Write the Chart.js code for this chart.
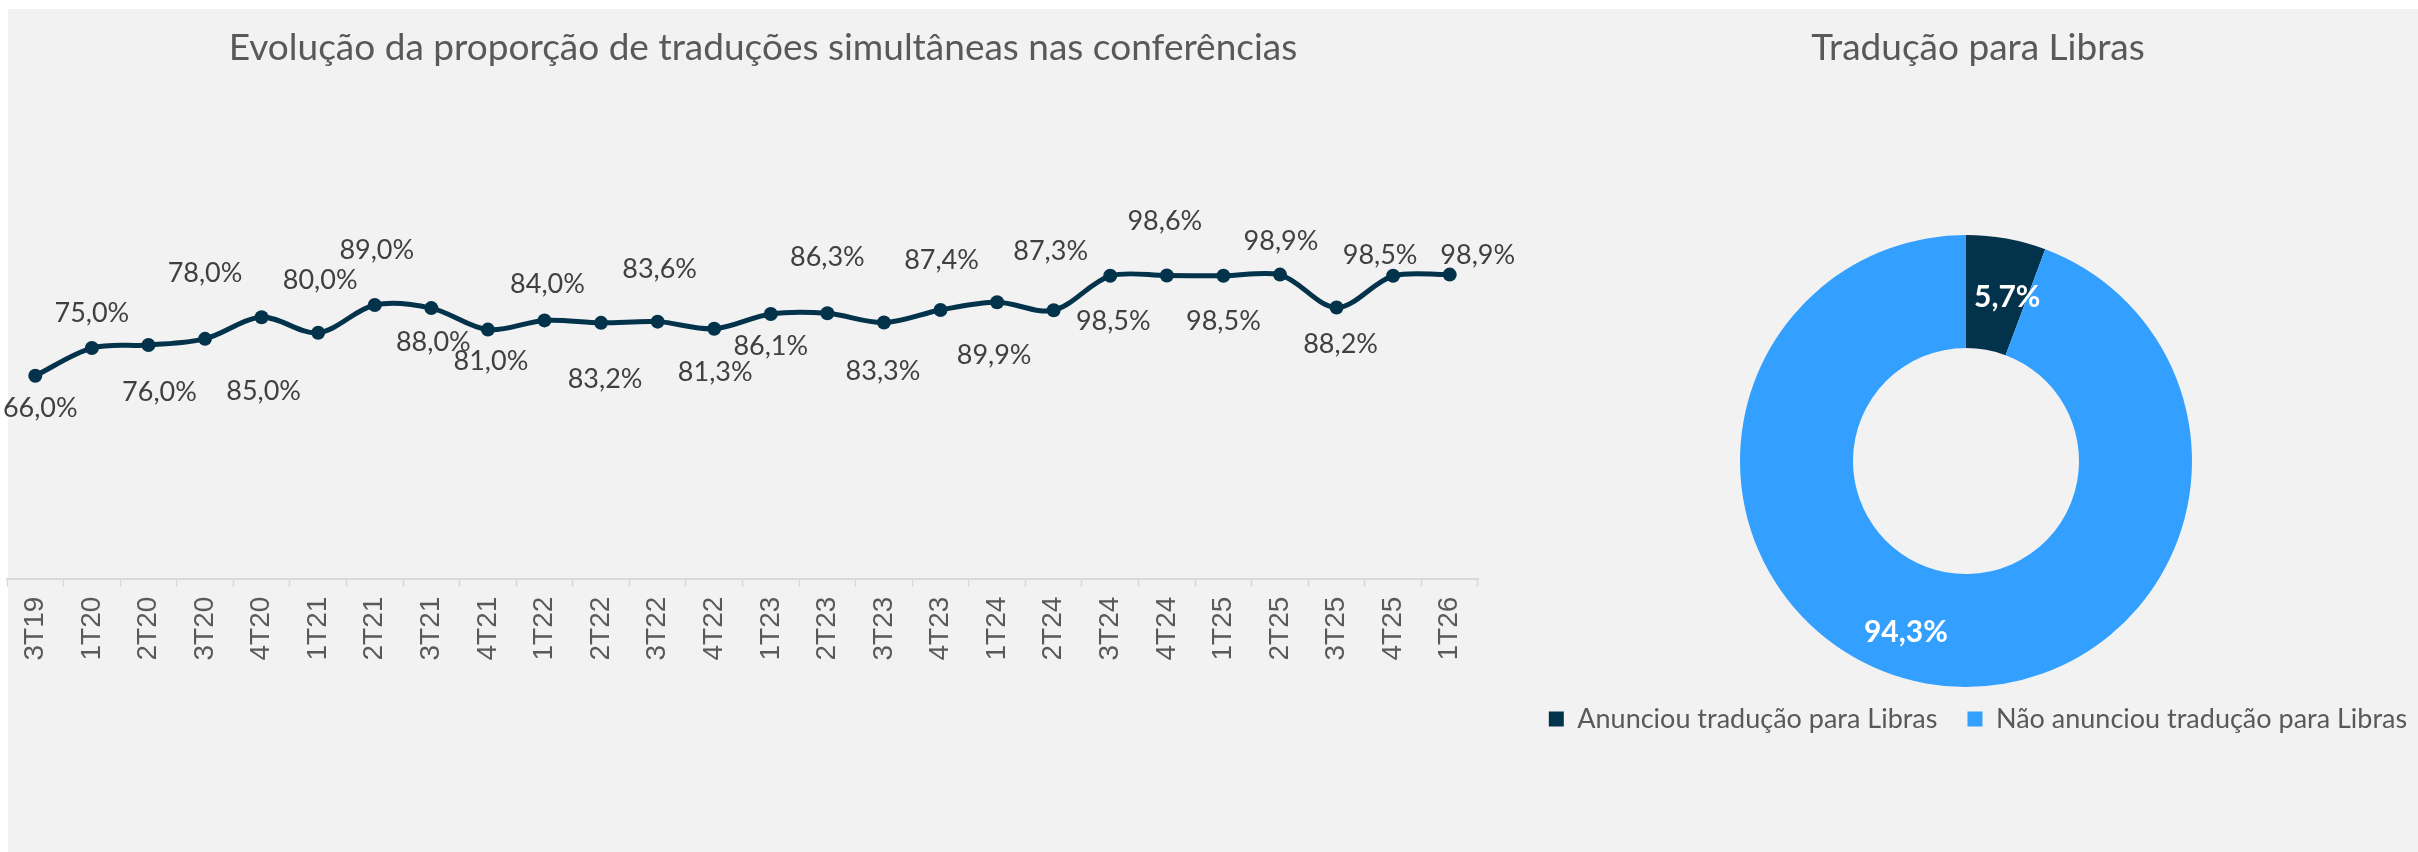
<!DOCTYPE html>
<html><head><meta charset="utf-8">
<script src="https://cdn.jsdelivr.net/npm/chart.js@4.4.1/dist/chart.umd.min.js"></script>
<style>
html,body{margin:0;padding:0;background:#fff;width:2418px;height:852px;overflow:hidden;}
#bg{position:absolute;left:8px;top:9px;right:0;bottom:0;background:#f2f2f2;}
#c1{position:absolute;left:0;top:0;}
#c2{position:absolute;left:1500px;top:0;}
</style></head><body>
<div id="bg"></div>
<canvas id="c1" width="1521" height="852"></canvas>
<canvas id="c2" width="956" height="852"></canvas>
<script>
// ---- data ----
const quarters = ["3T19","1T20","2T20","3T20","4T20","1T21","2T21","3T21","4T21","1T22","2T22","3T22","4T22","1T23","2T23","3T23","4T23","1T24","2T24","3T24","4T24","1T25","2T25","3T25","4T25","1T26"];
const simultaneousShare = [0.660,0.750,0.760,0.780,0.850,0.800,0.890,0.880,0.810,0.840,0.832,0.836,0.813,0.861,0.863,0.833,0.874,0.899,0.873,0.985,0.986,0.985,0.989,0.882,0.985,0.989];
const librasLabels = ["Anunciou tradução para Libras","Não anunciou tradução para Libras"];
const librasShares = [0.057, 0.943];
const lineTitle = "Evolução da proporção de traduções simultâneas nas conferências";
const donutTitle = "Tradução para Libras";

// ---- styles ----
const DARK = "#03334B";
const LIGHT = "#33A0FF";
// label placement relative to each point (px): [dx, dy]
const lineLabelOffsets = [[5,33],[0,-35],[11,47],[0,-66],[2,74],[2,-52],[2,-55],[2,34],[3,32],[3,-36],[4,56],[2,-52],[1,44],[0,32],[0,-56],[-1,49],[1,-50],[-3,53],[-3,-59],[3,45],[-2,-54],[0,45],[1,-33],[4,37],[-13,-21],[28,-19]];
const donutLabelOffsets = [[11,3],[-30,5]];
const donutShiftX = -12;

const fmt = v => (v*100).toFixed(1).replace('.', ',') + '%';

const lineLabelPlugin = {
  id: 'lineLabels',
  afterDatasetsDraw(chart) {
    const ctx = chart.ctx, meta = chart.getDatasetMeta(0);
    ctx.save();
    ctx.font = '27px Lato';
    ctx.fillStyle = '#404040';
    ctx.textAlign = 'center';
    ctx.textBaseline = 'middle';
    meta.data.forEach((pt, i) => {
      const o = lineLabelOffsets[i];
      ctx.fillText(fmt(simultaneousShare[i]), pt.x + o[0], pt.y + o[1]);
    });
    ctx.restore();
  }
};

const donutShiftPlugin = {
  id: 'donutShift',
  afterLayout(chart) {
    chart.chartArea.left += donutShiftX;
    chart.chartArea.right += donutShiftX;
  }
};

const donutLabelPlugin = {
  id: 'donutLabels',
  afterDatasetsDraw(chart) {
    const ctx = chart.ctx, meta = chart.getDatasetMeta(0);
    ctx.save();
    ctx.font = 'bold 30px Lato';
    ctx.fillStyle = '#ffffff';
    ctx.textAlign = 'center';
    ctx.textBaseline = 'middle';
    meta.data.forEach((arc, i) => {
      const p = arc.tooltipPosition();
      const o = donutLabelOffsets[i];
      ctx.fillText(fmt(librasShares[i]), p.x + o[0], p.y + o[1]);
    });
    ctx.restore();
  }
};

function draw() {
  new Chart(document.getElementById('c1'), {
    type: 'line',
    data: {
      labels: quarters,
      datasets: [{
        data: simultaneousShare,
        borderColor: DARK, backgroundColor: DARK,
        borderWidth: 5, tension: 0.33,
        pointRadius: 7, pointBackgroundColor: DARK, pointBorderWidth: 0,
        clip: false, yAxisID: 'y'
      }]
    },
    options: {
      responsive: false, animation: false, events: [],
      layout: { padding: { left: 5, right: 0, top: 0, bottom: 181.5 } },
      scales: {
        x: {
          offset: true,
          grid: { display: true, offset: true, drawOnChartArea: false, drawTicks: true, tickLength: 8, color: '#d9d9d9', tickColor: '#d9d9d9', tickWidth: 1.5 },
          border: { display: true, color: '#d9d9d9', width: 2 },
          ticks: { autoSkip: false, minRotation: 90, maxRotation: 90, padding: 10, color: '#595959', font: { family: 'Liberation Sans', size: 28 } }
        },
        y: { display: false, min: 0, max: 1 },
        y2: { position: 'right', display: true, ticks: { display: false }, grid: { display: false }, border: { display: false }, afterFit(s) { s.width = 43; } }
      },
      plugins: {
        legend: { display: false },
        tooltip: { enabled: false },
        title: { display: true, text: lineTitle, color: '#595959', font: { family: 'Lato', size: 37, weight: 'normal' }, padding: { top: 25.8, bottom: 201 } }
      }
    },
    plugins: [lineLabelPlugin]
  });

  new Chart(document.getElementById('c2'), {
    type: 'doughnut',
    data: {
      labels: librasLabels,
      datasets: [{ data: librasShares, backgroundColor: [DARK, LIGHT], borderWidth: 0, radius: 226, cutout: '50%' }]
    },
    options: {
      responsive: false, animation: false, events: [],
      layout: { padding: { bottom: 109.5 } },
      plugins: {
        tooltip: { enabled: false },
        title: { display: true, text: donutTitle, color: '#595959', font: { family: 'Lato', size: 37, weight: 'normal' }, padding: { top: 25.8, bottom: 176.3 } },
        legend: { position: 'bottom', labels: { font: { family: 'Lato', size: 27 }, color: '#595959', boxWidth: 15, boxHeight: 15, padding: 30 } }
      }
    },
    plugins: [donutShiftPlugin, donutLabelPlugin]
  });
}

if (document.fonts && document.fonts.load) {
  Promise.all([document.fonts.load('25px Lato'), document.fonts.load('bold 30px Lato'), document.fonts.load('27px "Liberation Sans"')]).then(draw, draw);
} else { draw(); }
</script>
</body></html>
